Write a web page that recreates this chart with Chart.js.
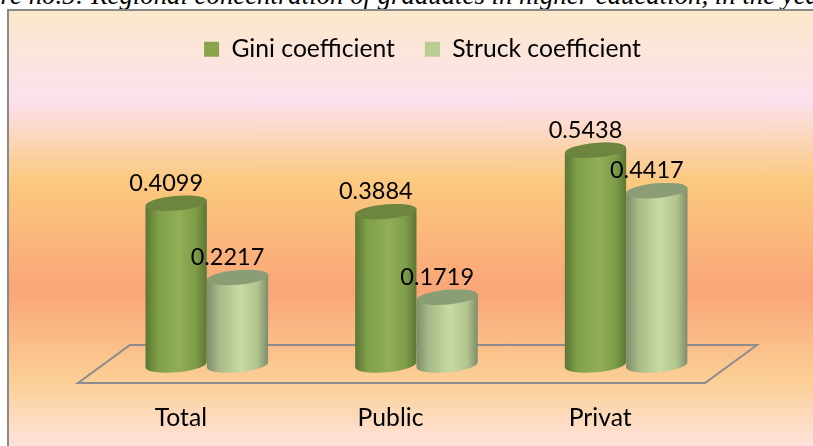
<!DOCTYPE html>
<html>
<head>
<meta charset="utf-8">
<style>
    html, body { margin: 0; padding: 0; background: #fff; overflow: hidden; }
    #page { position: relative; width: 813px; height: 446px; overflow: hidden; }
    #caption {
        position: absolute; left: -50px; top: -20px; white-space: nowrap;
        font: italic 26.8px "Liberation Serif", serif; color: #000;
    }
    #plate {
        position: absolute; left: 7px; top: 9px; width: 830px; height: 460px;
        border: 2px solid #8a8a8a;
        background: linear-gradient(to bottom, #fbe8cb 0, #fce1ee 90px, #fbc97e 170px, #faa578 280px, #fbcf95 370px, #fee3dc 436px);
    }
    #chart { position: absolute; left: 0; top: 0; }
</style>
</head>
<body>
<div id="page">
    <div id="caption">Figure no.5: Regional concentration of graduates in higher education, in the year</div>
    <div id="plate"></div>
    <canvas id="chart" width="813" height="446"></canvas>
</div>
<script src="https://cdn.jsdelivr.net/npm/chart.js@4"></script>
<script>
const categories = ['Total', 'Public', 'Privat'];
const giniValues = [0.4099, 0.3884, 0.5438];
const struckValues = [0.2217, 0.1719, 0.4417];

const bodyStops = [
    ['#5c7634', '#7f9f48', '#90af56', '#7e9d49', '#5d7534'],
    ['#7d8c6a', '#a8ba88', '#c6daa1', '#b3c58f', '#7d8c6a']
];
const capColors = ['#6e8540', '#8a9d75'];
const TILT = -5 * Math.PI / 180;
const RY = 7.3;

function drawCylinder(ctx, bar, stops, capColor) {
    const rx = bar.width / 2;
    const grad = ctx.createLinearGradient(bar.x - rx, 0, bar.x + rx, 0);
    stops.forEach((c, i) => grad.addColorStop([0, 0.2, 0.55, 0.82, 1][i], c));
    const dy = rx * Math.sin(TILT);

    ctx.beginPath();
    ctx.moveTo(bar.x - rx, bar.y - dy);
    ctx.lineTo(bar.x - rx, bar.base - dy);
    ctx.ellipse(bar.x, bar.base, rx, RY, TILT, Math.PI, 0, true);
    ctx.lineTo(bar.x + rx, bar.y + dy);
    ctx.ellipse(bar.x, bar.y, rx, RY, TILT, 0, Math.PI, true);
    ctx.closePath();
    ctx.fillStyle = grad;
    ctx.fill();

    ctx.beginPath();
    ctx.ellipse(bar.x, bar.y, rx, RY, TILT, 0, Math.PI * 2);
    ctx.fillStyle = capColor;
    ctx.fill();
}

const cylinderPlugin = {
    id: 'cylinders',
    afterLayout(chart) {
        // legend sits a bit right of the plot centre in the original
        chart.legend.left += 6;
        chart.legend.right += 6;
    },
    beforeDatasetsDraw(chart) {
        const ctx = chart.ctx;
        const floorY = chart.scales.y.getPixelForValue(0);
        const area = chart.chartArea;
        ctx.save();
        ctx.beginPath();
        ctx.moveTo(area.left - 24, floorY + 18);
        ctx.lineTo(area.right - 26, floorY + 18);
        ctx.lineTo(area.right + 26, floorY - 20);
        ctx.lineTo(area.left + 28, floorY - 20);
        ctx.closePath();
        ctx.strokeStyle = '#8c8c8c';
        ctx.lineWidth = 2;
        ctx.stroke();
        ctx.restore();
    },
    beforeDatasetDraw() {
        return false;
    },
    afterDatasetsDraw(chart) {
        const ctx = chart.ctx;
        ctx.save();
        chart.data.datasets.forEach((ds, d) => {
            chart.getDatasetMeta(d).data.forEach(bar => {
                drawCylinder(ctx, bar.getProps(['x', 'y', 'base', 'width'], true), bodyStops[d], capColors[d]);
            });
        });
        ctx.font = '23.5px Lato';
        ctx.fillStyle = '#000';
        ctx.textAlign = 'center';
        ctx.textBaseline = 'middle';
        chart.data.datasets.forEach((ds, d) => {
            chart.getDatasetMeta(d).data.forEach((bar, i) => {
                ctx.fillText(ds.data[i].toFixed(4), bar.x - 10, bar.y - 20);
            });
        });
        ctx.restore();
    }
};

new Chart(document.getElementById('chart').getContext('2d'), {
    type: 'bar',
    data: {
        labels: categories,
        datasets: [
            { label: 'Gini coefficient', data: giniValues, backgroundColor: '#8aa44c', borderWidth: 0 },
            { label: 'Struck coefficient', data: struckValues, backgroundColor: '#b8cd90', borderWidth: 0 }
        ]
    },
    options: {
        responsive: false,
        animation: false,
        categoryPercentage: 0.585,
        barPercentage: 1,
        layout: { padding: { left: 102, right: 82, top: 7, bottom: 0 } },
        plugins: {
            tooltip: { enabled: false },
            legend: {
                position: 'top',
                labels: {
                    boxWidth: 15,
                    boxHeight: 15,
                    padding: 30,
                    color: '#000',
                    font: { family: 'Lato', size: 24.7 }
                }
            }
        },
        scales: {
            x: {
                grid: { display: false },
                border: { display: false },
                afterFit(scale) {
                    scale.height = 81;
                },
                ticks: {
                    padding: 30,
                    labelOffset: -26,
                    color: '#000',
                    maxRotation: 0,
                    font: { family: 'Lato', size: 24.7 }
                }
            },
            y: { display: false, min: 0, max: 0.743 }
        }
    },
    plugins: [cylinderPlugin]
});
</script>
</body>
</html>
